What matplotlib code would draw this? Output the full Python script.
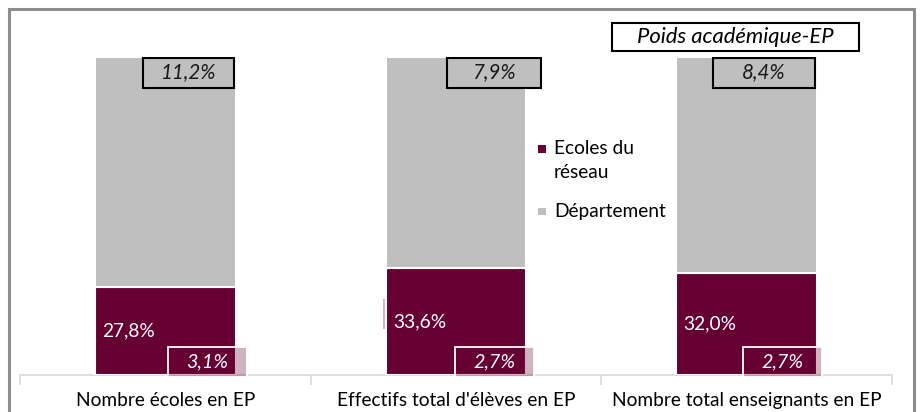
import matplotlib
matplotlib.use("Agg")
import matplotlib.pyplot as plt
from matplotlib.patches import Rectangle

plt.rcParams['font.family'] = ['Lato', 'DejaVu Sans']

categories = ["Nombre écoles en EP", "Effectifs total d'élèves en EP", "Nombre total enseignants en EP"]
reseau = [27.8, 33.6, 32.0]
departement = [100 - v for v in reseau]
reseau_labels = ["27,8%", "33,6%", "32,0%"]
poids_ecoles = ["3,1%", "2,7%", "2,7%"]
poids_dept = ["11,2%", "7,9%", "8,4%"]
series_names = ["Ecoles du\nréseau", "Département"]

maroon = "#660033"
grey = "#bfbfbf"

W, H = 924, 412
fig = plt.figure(figsize=(W / 100, H / 100), dpi=100)
ax = fig.add_axes([20 / W, (H - 375) / H, 872 / W, 318 / H])

x = list(range(len(categories)))
bw = 0.485
ax.bar(x, reseau, width=bw, color=maroon, edgecolor="white", linewidth=1.5, zorder=3,
       label=series_names[0])
ax.bar(x, departement, bottom=reseau, width=bw, color=grey, edgecolor="white", linewidth=1.5,
       zorder=3, label=series_names[1])

ax.set_xlim(-0.5, 2.5)
ax.set_ylim(0, 100)
ax.set_yticks([])
for s in ["top", "left", "right"]:
    ax.spines[s].set_visible(False)
ax.spines["bottom"].set_color("#d9d9d9")
ax.spines["bottom"].set_linewidth(1.2)
ax.set_xticks([-0.5, 0.5, 1.5, 2.5], minor=True)
ax.tick_params(axis="x", which="minor", length=7, color="#d9d9d9", width=1.2)
ax.tick_params(axis="x", which="major", length=0, pad=12)
ax.set_xticks(x)
ax.set_xticklabels(categories, fontsize=13.8, color="#000000")

box_fill = (0.4, 0.0, 0.2, 0.3)

# faint sliver of a label box behind the second bar
ax.add_patch(Rectangle((1 - bw / 2 - 0.009, 14.5), 0.02, 9.5, facecolor=box_fill, edgecolor="none", zorder=2))

for i in x:
    ax.text(i - bw / 2 + 0.025, reseau[i] / 2, reseau_labels[i], color="white",
            fontsize=13.8, ha="left", va="center", zorder=5)

# bottom "poids" boxes (label box of the réseau series)
bx_center = [0.145, 0.132, 0.122]
bw_box = 0.272
for i in x:
    cx = i + bx_center[i]
    ax.add_patch(Rectangle((cx - bw_box / 2, -0.6), bw_box, 9.4, facecolor=box_fill,
                           edgecolor="white", linewidth=1.3, zorder=6, clip_on=False))
    ax.text(cx, 4.1, poids_ecoles[i], color="white", fontsize=14.2,
            style="italic", ha="center", va="center", zorder=7)

# top "poids" boxes (department)
tx_center = [0.079, 0.13, 0.06]
tw_box = [0.313, 0.323, 0.35]
for i in x:
    cx = i + tx_center[i]
    ax.add_patch(Rectangle((cx - tw_box[i] / 2, 90.4), tw_box[i], 9.4, facecolor=grey,
                           edgecolor="black", linewidth=1.5, zorder=6))
    ax.text(cx, 95.1, poids_dept[i], color="#1a1a1a", fontsize=14.8,
            style="italic", ha="center", va="center", zorder=7)

fig.add_artist(Rectangle((612 / W, 1 - 51 / H), 247 / W, 28 / H, transform=fig.transFigure,
                         facecolor="white", edgecolor="black", linewidth=1.5))
fig.text(735.5 / W, 1 - 37 / H, "Poids académique-EP", fontsize=15.8, style="italic",
         ha="center", va="center")

# legend drawn by hand (marker aligned with the first text line)
leg_colors = [maroon, grey]
leg_marker_y = [149.5, 211.5]
leg_text_y = [160.5, 211.5]
for col, my, ty, name in zip(leg_colors, leg_marker_y, leg_text_y, series_names):
    fig.add_artist(Rectangle((538 / W, 1 - (my + 3.5) / H), 7.5 / W, 7.5 / H,
                             transform=fig.transFigure, facecolor=col, edgecolor="none"))
    fig.text(554 / W, 1 - ty / H, name, fontsize=13.8, ha="left", va="center",
             linespacing=1.55)

fig.add_artist(Rectangle((8.5 / W, -0.1), 905 / W, (H - 9.5) / H + 0.1, transform=fig.transFigure,
                         facecolor="none", edgecolor="#8c8c8c", linewidth=2.2))

fig.savefig("out.png", dpi=100)
